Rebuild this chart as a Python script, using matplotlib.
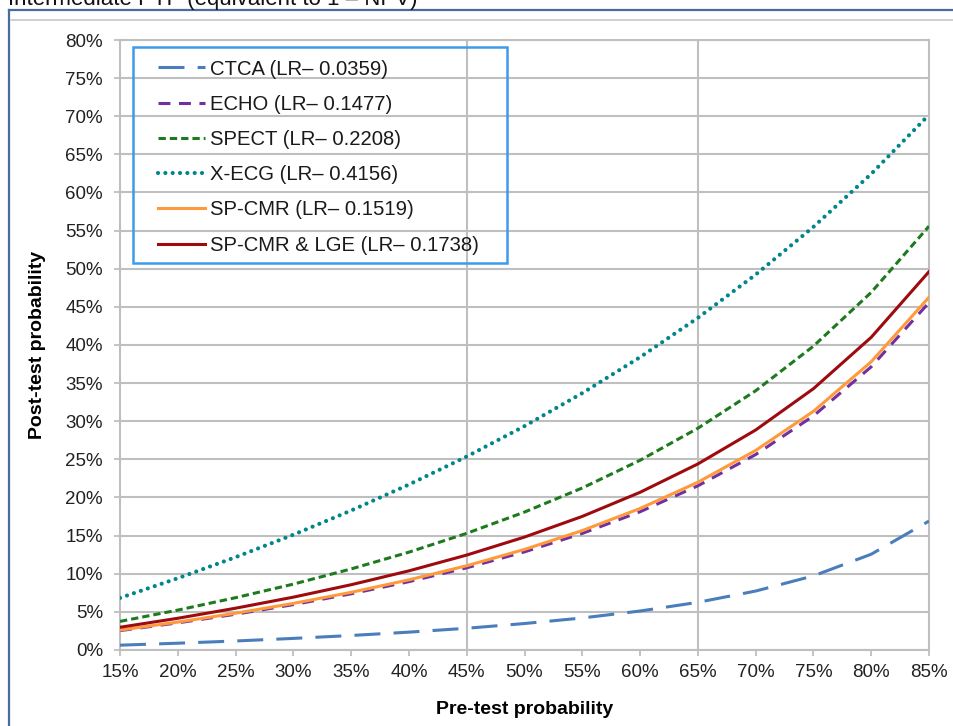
import matplotlib
matplotlib.use('Agg')
import matplotlib.pyplot as plt
from matplotlib.lines import Line2D
from matplotlib.patches import Rectangle
from matplotlib.ticker import FuncFormatter, MultipleLocator

plt.rcParams['font.family'] = ['Liberation Sans', 'DejaVu Sans']

# pre-test probability (%) and read-off post-test probability (%) per test
pretest = [15, 20, 25, 30, 35, 40, 45, 50, 55, 60, 65, 70, 75, 80, 85]
ctca   = [0.63, 0.89, 1.18, 1.52, 1.90, 2.34, 2.85, 3.47, 4.20, 5.11, 6.25, 7.73, 9.72, 12.56, 16.91]
echo   = [2.54, 3.56, 4.69, 5.95, 7.37, 8.96, 10.78, 12.87, 15.29, 18.13, 21.53, 25.63, 30.70, 37.14, 45.56]
spect  = [3.75, 5.23, 6.86, 8.64, 10.63, 12.83, 15.30, 18.09, 21.25, 24.88, 29.08, 34.00, 39.85, 46.90, 55.58]
xecg   = [6.83, 9.41, 12.17, 15.12, 18.29, 21.70, 25.37, 29.36, 33.69, 38.40, 43.56, 49.23, 55.49, 62.44, 70.19]
spcmr  = [2.61, 3.66, 4.82, 6.11, 7.56, 9.20, 11.05, 13.19, 15.66, 18.56, 22.00, 26.17, 31.30, 37.80, 46.26]
spcmr_lge = [2.98, 4.16, 5.48, 6.93, 8.56, 10.38, 12.45, 14.81, 17.52, 20.68, 24.40, 28.85, 34.27, 41.01, 49.62]

labels = ['CTCA (LR\u2013 0.0359)', 'ECHO (LR\u2013 0.1477)', 'SPECT (LR\u2013 0.2208)',
          'X-ECG (LR\u2013 0.4156)', 'SP-CMR (LR\u2013 0.1519)', 'SP-CMR & LGE (LR\u2013 0.1738)']
series = [ctca, echo, spect, xecg, spcmr, spcmr_lge]
vgrid = [45, 65]

colors = ['#4a7ebb', '#7030a0', '#1f7a1f', '#00868a', '#ff9a3c', '#9e0b0f']
styles = [(0, (8.5, 4.3)), (0, (3.9, 2.8)), (0, (2.4, 1.3)), (0, (0.01, 1.75)), '-', '-']
widths = [2.2, 2.2, 2.2, 3.0, 2.2, 2.2]

fig = plt.figure(figsize=(9.54, 7.26), dpi=100)
ax = fig.add_axes([0.1258, 0.1047, 0.8480, 0.8402])

grid_c = '#bfbfbf'
for x in vgrid:
    ax.axvline(x, color=grid_c, lw=1.5, zorder=1)

for y, lab, c, ls, lw in zip(series, labels, colors, styles, widths):
    ax.plot(pretest, y, color=c, ls=ls, lw=lw, label=lab,
            dash_capstyle='round' if lw > 2.5 else 'butt', zorder=3)

ax.set_xlim(15, 85)
ax.set_ylim(0, 80)
ax.xaxis.set_major_locator(MultipleLocator(5))
ax.yaxis.set_major_locator(MultipleLocator(5))
pct = FuncFormatter(lambda v, p: '%d%%' % round(v))
ax.xaxis.set_major_formatter(pct)
ax.yaxis.set_major_formatter(pct)
ax.yaxis.grid(True, color=grid_c, lw=1.5, zorder=1)
ax.set_axisbelow(True)
for s in ax.spines.values():
    s.set_color(grid_c)
    s.set_linewidth(1.5)
ax.tick_params(axis='both', colors=grid_c, labelcolor='#222222', labelsize=13.5,
               length=4.3, width=1.3)
ax.tick_params(axis='y', pad=8)
ax.tick_params(axis='x', pad=6)

ax.set_xlabel('Pre-test probability', fontsize=14, fontweight='bold', labelpad=14)
ax.set_ylabel('Post-test probability', fontsize=14, fontweight='bold', labelpad=14)

leg = ax.legend(loc='upper left', bbox_to_anchor=(0.047, 0.968), frameon=False,
                fontsize=14.6, borderpad=0, borderaxespad=0, handlelength=2.3,
                handletextpad=0.25, labelspacing=0.80)
for t in leg.get_texts():
    t.set_color('#1a1a1a')
ax.add_patch(Rectangle((0.0161, 0.6344), 0.4623, 0.354, transform=ax.transAxes,
                       fill=False, edgecolor='#3d9be9', lw=1.8, zorder=5, clip_on=False))

# outer frame of the original figure and the cut-off heading
fig.add_artist(Line2D([0.0094, 0.0094], [0.9862, 0.0], color='#4a6c9b', lw=1.6,
                      transform=fig.transFigure))
fig.add_artist(Line2D([0.0094, 1.0], [0.9862, 0.9862], color='#4a6c9b', lw=1.6,
                      transform=fig.transFigure))
fig.add_artist(Line2D([0.0115, 1.0], [0.9731, 0.9731], color='#c8c8c8', lw=1.2,
                      transform=fig.transFigure))
fig.text(0.008, 0.9931, 'Intermediate PTP (equivalent to 1 \u2013 NPV)', fontsize=16,
         ha='left', va='baseline', color='#111111')

fig.savefig('out.png', dpi=100)
